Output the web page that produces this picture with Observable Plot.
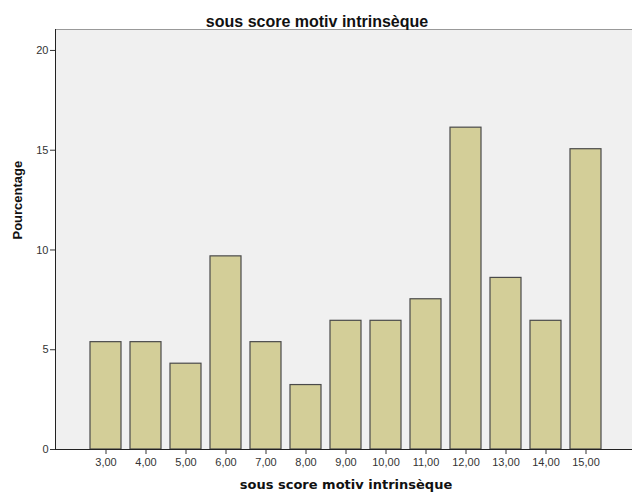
<!DOCTYPE html>
<html><head><meta charset="utf-8">
<script src="https://cdn.jsdelivr.net/npm/d3@7"></script>
<script src="https://cdn.jsdelivr.net/npm/@observablehq/plot@0.6"></script>
<style>body{margin:0;background:#fff}</style>
</head><body><div id="chart"></div>
<script>
const categories = [3,4,5,6,7,8,9,10,11,12,13,14,15];
const percentages = [5.38,5.38,4.30,9.68,5.38,3.23,6.45,6.45,7.53,16.13,8.60,6.45,15.05];
const yTicks = [0,5,10,15,20];
const title = "sous score motiv intrinsèque";
const xLabel = "sous score motiv intrinsèque";
const yLabel = "Pourcentage";
const yMax = 21.05;

const data = categories.map((c,i)=>({c, v: percentages[i]}));
const fmt = d => d3.format(".2f")(d).replace(".", ",");

const chart = Plot.plot({
  width: 632, height: 497,
  marginLeft: 55, marginRight: 0, marginTop: 29, marginBottom: 48,
  style: {fontFamily: "'Liberation Sans', Arial, sans-serif", fontSize: "11px", background: "#fff", overflow: "visible"},
  x: {type: "band", domain: categories, padding: 0.23, insetLeft: 24, insetRight: 20, label: null},
  y: {domain: [0, yMax], label: null},
  marks: [
    Plot.frame({fill: "#f0f0f0", stroke: null}),
    Plot.ruleY([yMax], {stroke: "#999", strokeWidth: 1}),
    Plot.barY(data, {x: "c", y: "v", fill: "#d3ce98", stroke: "#4a4a4a", strokeWidth: 1.2}),
    Plot.axisX({tickSize: 5, tickFormat: fmt, tickPadding: 4, fill: "#333", stroke: "#333", label: null}),
    Plot.axisY({ticks: yTicks, tickSize: 5, tickPadding: 2, fill: "#333", stroke: "#333", label: null}),
    Plot.ruleY([0], {stroke: "#222", strokeWidth: 1}),
    Plot.frame({anchor: "left", stroke: "#222"}),
    Plot.text([title], {frameAnchor: "top", dx: -27, dy: -14, fontWeight: "bold", fontSize: 16, fill: "#111"}),
    Plot.text([xLabel], {frameAnchor: "bottom", dx: 2, dy: 39, fontWeight: "bold", fontSize: 13, fill: "#111", fontFamily: "'DejaVu Sans', Verdana, sans-serif"}),
    Plot.text([yLabel], {frameAnchor: "left", dx: -38, rotate: -90, fontWeight: "bold", fontSize: 13, fill: "#111"})
  ]
});
document.getElementById("chart").appendChild(chart);
</script>
</body></html>
